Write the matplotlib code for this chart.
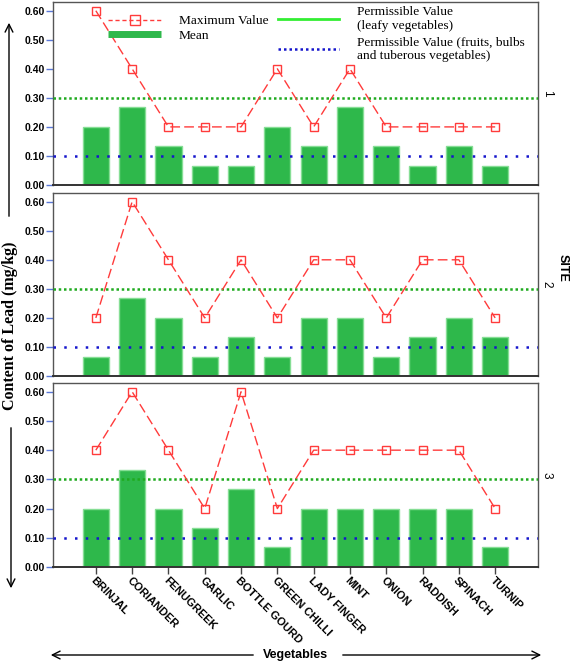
import matplotlib
matplotlib.use("Agg")
import matplotlib.pyplot as plt
from matplotlib.lines import Line2D
import numpy as np

vegetables = ["BRINJAL", "CORIANDER", "FENUGREEK", "GARLIC", "BOTTLE GOURD",
              "GREEN CHILLI", "LADY FINGER", "MINT", "ONION", "RADDISH",
              "SPINACH", "TURNIP"]

site1_mean = [0.20, 0.267, 0.133, 0.067, 0.067, 0.20, 0.133, 0.267, 0.133, 0.067, 0.133, 0.067]
site1_max = [0.60, 0.40, 0.20, 0.20, 0.20, 0.40, 0.20, 0.40, 0.20, 0.20, 0.20, 0.20]
site2_mean = [0.067, 0.267, 0.20, 0.067, 0.133, 0.067, 0.20, 0.20, 0.067, 0.133, 0.20, 0.133]
site2_max = [0.20, 0.60, 0.40, 0.20, 0.40, 0.20, 0.40, 0.40, 0.20, 0.40, 0.40, 0.20]
site3_mean = [0.20, 0.333, 0.20, 0.133, 0.267, 0.067, 0.20, 0.20, 0.20, 0.20, 0.20, 0.067]
site3_max = [0.40, 0.60, 0.40, 0.20, 0.60, 0.20, 0.40, 0.40, 0.40, 0.40, 0.40, 0.20]

sites = ["1", "2", "3"]
limit_leafy = 0.30
limit_other = 0.10
yticks = [0.0, 0.1, 0.2, 0.3, 0.4, 0.5, 0.6]

W, H = 572, 664
fig = plt.figure(figsize=(W / 100, H / 100), dpi=100)


def fx(px):
    return px / W


def fy(py):
    return 1 - py / H


RED = "#FF3B3B"
BAR = "#2EB84B"
BAR_EDGE = "#86DE95"
GREEN_DOT = "#1FAA1F"
BLUE_DOT = "#1515CC"
TICK_BLUE = "#5A78D8"

panels = [(2, 185), (193, 376), (383, 567)]
data = [(site1_mean, site1_max), (site2_mean, site2_max), (site3_mean, site3_max)]
x = np.arange(len(vegetables))

axes = []
for i, ((top, bot), (mean, mx)) in enumerate(zip(panels, data)):
    ax = fig.add_axes([fx(53), fy(bot), fx(538 - 53), (bot - top) / H])
    ax.bar(x, mean, width=0.72, color=BAR, edgecolor=BAR_EDGE, linewidth=1, zorder=2)
    ax.axhline(limit_leafy, color=GREEN_DOT, linewidth=1.8, dashes=(1, 1.1), zorder=3)
    ax.axhline(limit_other, color=BLUE_DOT, linewidth=1.8, dashes=(1, 3.3), zorder=3)
    ax.plot(x, mx, color=RED, linewidth=1, dashes=(7, 3), marker="s",
            markersize=6, markerfacecolor="none", markeredgecolor=RED,
            markeredgewidth=1, zorder=4)
    ax.set_xlim(-1.18, len(vegetables) + 0.18)
    ax.set_ylim(0, 0.63)
    ax.set_yticks(yticks)
    ax.set_yticklabels([f"{v:.2f}" for v in yticks], fontfamily="Liberation Sans",
                       fontweight="bold", fontsize=7.5)
    ax.tick_params(axis="y", length=5, width=1, color=TICK_BLUE, pad=1)
    for s in ax.spines.values():
        s.set_color("#555555")
        s.set_linewidth(1)
    ax.spines["bottom"].set_color("#333333")
    ax.spines["bottom"].set_linewidth(1.4)
    ax.text(1.006, 0.5, sites[i], transform=ax.transAxes, rotation=-90,
            ha="left", va="center", fontsize=8.5, fontfamily="Liberation Sans")
    if i < 2:
        ax.set_xticks([])
    else:
        ax.set_xticks(x)
        ax.set_xticklabels(vegetables, rotation=-45, ha="left", va="top",
                           rotation_mode="anchor", fontfamily="Liberation Sans",
                           fontweight="bold", fontsize=8)
        ax.tick_params(axis="x", length=5, width=1, color="#444444", pad=1)
    axes.append(ax)

# legends inside the first panel
ax0 = axes[0]
h_max = Line2D([], [], color=RED, linewidth=1, dashes=(3, 2), marker="s",
               markersize=7, markerfacecolor="none", markeredgecolor=RED)
h_mean = Line2D([], [], color=BAR, linewidth=5, solid_capstyle="butt")
leg1 = ax0.legend([h_max, h_mean], ["Maximum Value", "Mean"],
                  loc="upper left", bbox_to_anchor=(fx(104), fy(11)),
                  bbox_transform=fig.transFigure, frameon=False, numpoints=1,
                  prop={"family": "Liberation Serif", "size": 9.6},
                  handlelength=4.0, handletextpad=1.3, labelspacing=0.15,
                  borderaxespad=0, borderpad=0.3)
ax0.add_artist(leg1)
h_leafy = Line2D([], [], color="#33EE33", linewidth=2)
h_other = Line2D([], [], color=BLUE_DOT, linewidth=1.8, dashes=(1, 1.2))
leg2 = ax0.legend([h_leafy, h_other],
                  ["Permissible Value\n(leafy vegetables)",
                   "Permissible Value (fruits, bulbs\nand tuberous vegetables)"],
                  loc="upper left", bbox_to_anchor=(fx(274), fy(2)),
                  bbox_transform=fig.transFigure, frameon=False,
                  prop={"family": "Liberation Serif", "size": 9.6},
                  handlelength=4.6, handletextpad=1.3, labelspacing=0.3,
                  borderaxespad=0, borderpad=0.3)

# y axis label with arrows
fig.text(fx(10), fy(326), "Content of Lead (mg/kg)", rotation=90, ha="center",
         va="center", fontfamily="Liberation Serif", fontweight="bold", fontsize=11.5)
arrow = dict(arrowstyle="->", color="black", linewidth=1, mutation_scale=14)
fig.add_artist(matplotlib.patches.FancyArrowPatch((fx(9), fy(219)), (fx(9), fy(20)),
                                                  transform=fig.transFigure, **arrow))
fig.add_artist(matplotlib.patches.FancyArrowPatch((fx(11), fy(425)), (fx(11), fy(591)),
                                                  transform=fig.transFigure, **arrow))

# x axis label with arrows
fig.text(fx(295), fy(655), "Vegetables", ha="center", va="center",
         fontfamily="Liberation Sans", fontweight="bold", fontsize=9)
fig.add_artist(matplotlib.patches.FancyArrowPatch((fx(256), fy(655)), (fx(48), fy(655)),
                                                  transform=fig.transFigure, **arrow))
fig.add_artist(matplotlib.patches.FancyArrowPatch((fx(340), fy(655)), (fx(544), fy(655)),
                                                  transform=fig.transFigure, **arrow))

# site label on the right
fig.text(fx(563), fy(268), "SITE", rotation=-90, ha="center", va="center",
         fontfamily="Liberation Sans", fontweight="bold", fontsize=9)

fig.savefig("out.png", dpi=100)
